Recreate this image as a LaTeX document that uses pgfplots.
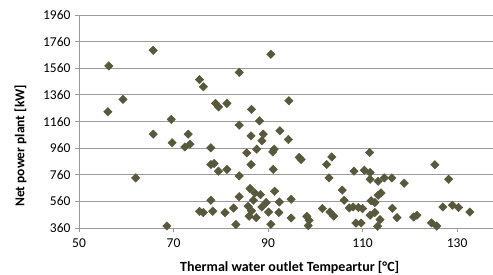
\documentclass[border=0pt]{standalone}
\usepackage{fontspec}
\setmainfont{Carlito}
\usepackage{pgfplots}
\usepackage{pgfplotstable}
\pgfplotsset{compat=1.18}
\definecolor{mk}{RGB}{88,88,60}
\definecolor{gridc}{RGB}{155,155,155}
\pgfplotstableread{
x y
56.1 1233
56.3 1577
59.3 1326
62.0 736
65.7 1695
65.7 1065
68.6 375
69.5 1176
69.7 1000
72.4 969
73.1 1065
73.5 990
75.5 1474
76.3 1421
75.5 485
76.3 476
77.9 962
77.9 837
78.6 845
77.9 568
78.3 486
78.9 1296
79.5 1270
79.5 787
80.9 476
81.3 1296
81.3 800
82.7 510
83.2 386
83.9 1529
83.9 1133
83.9 751
83.9 595
85.5 924
85.8 523
86.0 448
86.2 656
86.4 1052
86.4 837
86.5 1251
86.5 488
86.9 568
87.2 623
87.5 438
87.6 952
88.2 1165
88.4 611
88.7 1015
88.7 518
89.0 1065
89.6 551
90.1 480
90.6 1665
90.6 388
91.0 932
91.3 952
91.1 800
91.4 636
92.3 476
92.4 556
92.5 1090
94.3 1025
94.4 1316
94.9 576
94.9 435
96.6 890
97.0 875
98.2 448
98.7 418
98.5 378
101.5 506
102.4 837
102.9 736
103.5 894
103.1 480
103.9 450
105.7 644
106.1 568
107.2 511
108.0 518
108.2 787
108.6 397
109.1 514
109.7 397
110.0 506
110.4 794
111.5 927
111.6 777
111.6 726
111.8 565
112.6 552
111.6 456
112.6 476
113.3 606
113.9 623
113.3 711
113.7 423
113.2 373
114.6 736
116.2 736
116.3 508
117.3 438
118.8 697
120.8 443
121.5 456
124.6 398
125.3 835
125.7 375
127.0 518
128.2 726
129.0 531
130.3 514
132.7 480
}\datatable
\begin{document}
\begin{tikzpicture}[x=1pt,y=1pt]
\useasboundingbox (-79,-46) rectangle (414,228);
\begin{axis}[at={(0,0)}, anchor=south west, scale only axis,
  width=414pt, height=213pt,
  xmin=50, xmax=137.6, ymin=360, ymax=1960,
  xtick={50,70,90,110,130}, ytick={360,560,760,960,1160,1360,1560,1760,1960},
  axis x line*=bottom, axis y line*=left,
  ymajorgrids, grid style={gridc, line width=0.9pt},
  axis line style={gridc, line width=0.9pt},
  tick style={gridc, line width=0.9pt}, tick align=outside, major tick length=4pt,
  ticklabel style={font=\fontsize{13.5}{15}\selectfont, text=black},
  xticklabel style={yshift=-3pt},
  yticklabel style={xshift=-1pt},
  /pgf/number format/assume math mode=true,
  scaled ticks=false, /pgf/number format/1000 sep={},
  xlabel={Thermal water outlet Tempeartur [°C]},
  ylabel={Net power plant [kW]},
  label style={font=\bfseries\fontsize{13.5}{15}\selectfont, text=black, inner sep=0pt},
  xlabel style={at={(axis description cs:0.244,-0.1831)}, anchor=west, font=\bfseries\fontsize{14}{15}\selectfont},
  ylabel style={at={(axis description cs:-0.1413,0.0986)}, anchor=west},
  clip=false,
]
\addplot[only marks, mark=square*, mark size=3pt,
  mark options={rotate=45, fill=mk, draw=mk}] table[x=x,y=y]{\datatable};
\end{axis}
\end{tikzpicture}
\end{document}
